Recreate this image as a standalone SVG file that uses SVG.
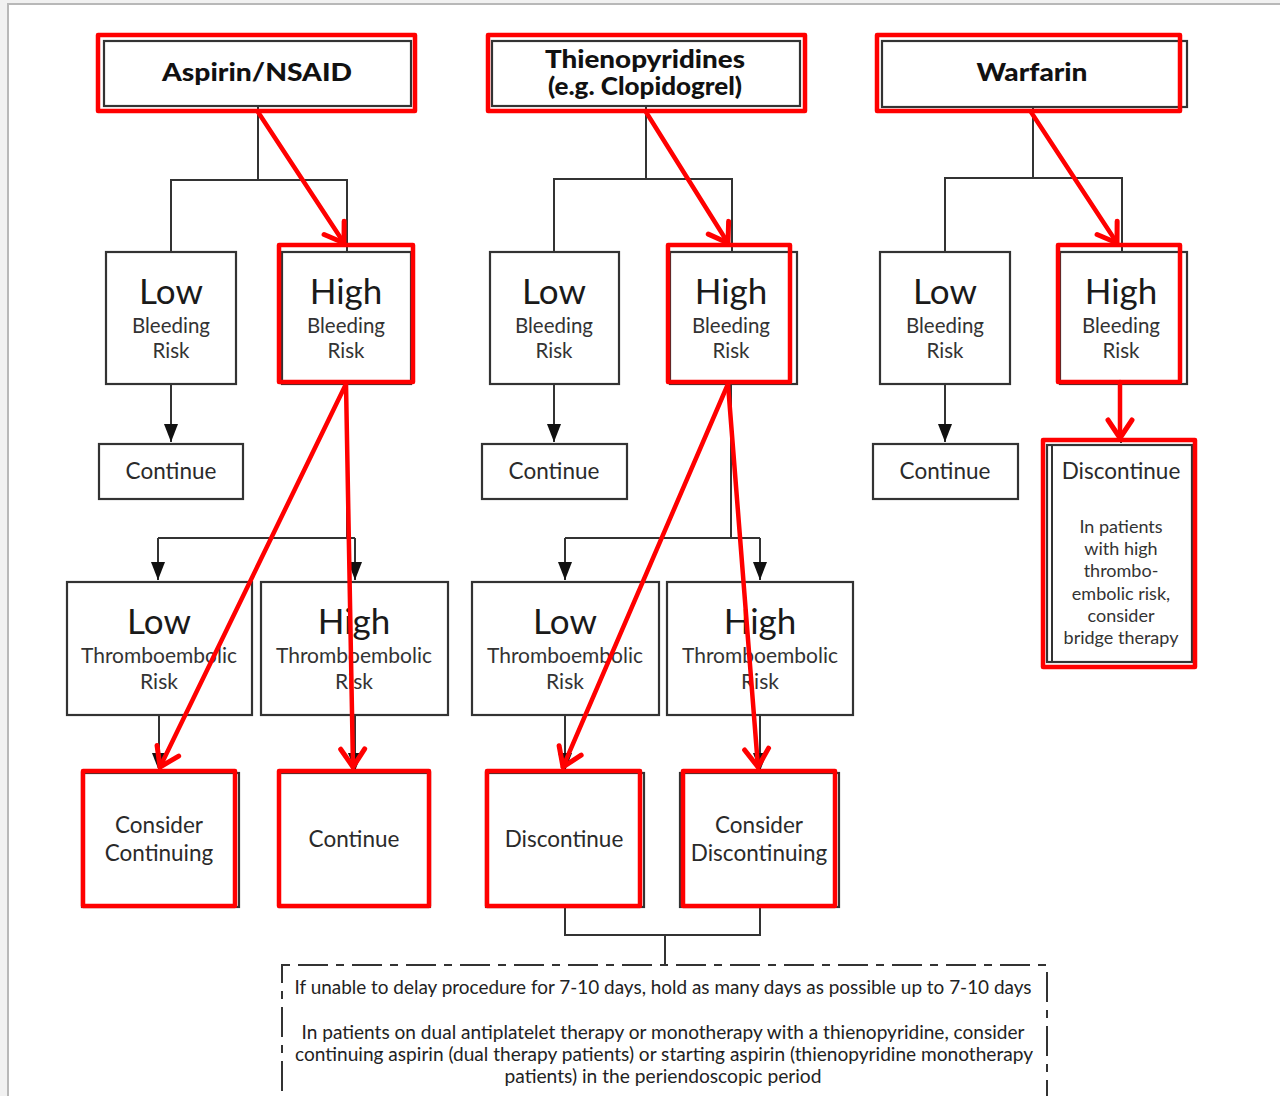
<svg xmlns="http://www.w3.org/2000/svg" width="1280" height="1096" viewBox="0 0 1280 1096">
<defs>
<style>
.bx{fill:#fff;stroke:#333;stroke-width:2.2}
.rd{fill:none;stroke:#f00;stroke-width:4.5;stroke-linejoin:round}
.ln{fill:none;stroke:#333;stroke-width:2}
.ra{fill:none;stroke:#f00;stroke-width:4.5;stroke-linecap:round}
text{font-family:Lato,"Liberation Sans",sans-serif;text-anchor:middle;fill:#2a2a2a}
.hdr{font-size:24px;font-weight:900;fill:#111}
.big{font-size:35px;fill:#1a1a1a}
.sub{font-size:20.5px;fill:#333}
.th{font-size:21px;fill:#333}
.out{font-size:22.5px;fill:#2a2a2a}
.sm{font-size:18px;fill:#333}
.note{font-size:18.5px;fill:#222}
</style>
<marker id="bh" markerUnits="userSpaceOnUse" orient="auto" refX="0" refY="0" markerWidth="30" markerHeight="30" viewBox="-25 -15 30 30" overflow="visible"><path d="M0,0 L-18,-7 L-18,7 Z" fill="#111"/></marker>
<marker id="rh" markerUnits="userSpaceOnUse" orient="auto" refX="0" refY="0" markerWidth="40" markerHeight="40" viewBox="-30 -20 40 40" overflow="visible"><path d="M-18,-12 L0,0 L-18,12" fill="none" stroke="#f00" stroke-width="5" stroke-linecap="round" stroke-linejoin="round"/></marker>
</defs>
<rect x="0" y="0" width="1280" height="1096" fill="#f1f1f1"/>
<rect x="8" y="4" width="1290" height="1110" fill="#fff" stroke="#b8b8b8" stroke-width="2"/>

<g id="connectors">
<path class="ln" d="M258,106 V180 M171,252 V180 H347 V252"/>
<path class="ln" d="M646,106 V179 M554,252 V179 H732 V252"/>
<path class="ln" d="M1033,107 V178 M945,252 V178 H1122 V252"/>
<path class="ln" d="M171,384 V442" marker-end="url(#bh)"/>
<path class="ln" d="M554,384 V442" marker-end="url(#bh)"/>
<path class="ln" d="M945,384 V442" marker-end="url(#bh)"/>
<path class="ln" d="M1121,384 V443"/>
<path class="ln" d="M347,384 V538 M158,538 H355"/>
<path class="ln" d="M158,538 V580" marker-end="url(#bh)"/>
<path class="ln" d="M355,538 V580" marker-end="url(#bh)"/>
<path class="ln" d="M159,715 V771" marker-end="url(#bh)"/>
<path class="ln" d="M355,715 V771" marker-end="url(#bh)"/>
<path class="ln" d="M731,384 V538 M565,538 H760"/>
<path class="ln" d="M565,538 V580" marker-end="url(#bh)"/>
<path class="ln" d="M760,538 V580" marker-end="url(#bh)"/>
<path class="ln" d="M565,715 V771" marker-end="url(#bh)"/>
<path class="ln" d="M760,715 V771" marker-end="url(#bh)"/>
<path class="ln" d="M565,907 V935 H760 V907 M665,935 V965"/>
</g>

<g id="aspirin">
<rect class="bx" x="104" y="41" width="307" height="65"/>
<rect class="rd" x="98" y="35" width="317" height="76"/>
<text class="hdr" x="257" y="81" textLength="190" lengthAdjust="spacingAndGlyphs">Aspirin/NSAID</text>
</g>
<g id="thieno">
<rect class="bx" x="492" y="41" width="308" height="65"/>
<rect class="rd" x="488" y="35" width="317" height="76"/>
<text class="hdr" x="645" y="68" textLength="200" lengthAdjust="spacingAndGlyphs">Thienopyridines</text>
<text class="hdr" x="645" y="95" textLength="194" lengthAdjust="spacingAndGlyphs">(e.g. Clopidogrel)</text>
</g>
<g id="warfarin">
<rect class="bx" x="882" y="41" width="305" height="66"/>
<rect class="rd" x="877" y="35" width="303" height="76"/>
<text class="hdr" x="1032" y="81" textLength="111" lengthAdjust="spacingAndGlyphs">Warfarin</text>
</g>

<g id="a-low-bleed">
<rect class="bx" x="106" y="252" width="130" height="132"/>
<text class="big" x="171" y="304">Low</text>
<text class="sub" x="171" y="333">Bleeding</text>
<text class="sub" x="171" y="358">Risk</text>
</g>
<g id="a-high-bleed">
<rect class="bx" x="282" y="252" width="129" height="132"/>
<rect class="rd" x="279" y="245" width="134" height="137"/>
<text class="big" x="346" y="304">High</text>
<text class="sub" x="346" y="333">Bleeding</text>
<text class="sub" x="346" y="358">Risk</text>
</g>
<g id="t-low-bleed">
<rect class="bx" x="490" y="252" width="129" height="132"/>
<text class="big" x="554" y="304">Low</text>
<text class="sub" x="554" y="333">Bleeding</text>
<text class="sub" x="554" y="358">Risk</text>
</g>
<g id="t-high-bleed">
<rect class="bx" x="670" y="252" width="127" height="132"/>
<rect class="rd" x="668" y="245" width="122" height="137"/>
<text class="big" x="731" y="304">High</text>
<text class="sub" x="731" y="333">Bleeding</text>
<text class="sub" x="731" y="358">Risk</text>
</g>
<g id="w-low-bleed">
<rect class="bx" x="880" y="252" width="130" height="132"/>
<text class="big" x="945" y="304">Low</text>
<text class="sub" x="945" y="333">Bleeding</text>
<text class="sub" x="945" y="358">Risk</text>
</g>
<g id="w-high-bleed">
<rect class="bx" x="1060" y="252" width="127" height="132"/>
<rect class="rd" x="1058" y="245" width="122" height="137"/>
<text class="big" x="1121" y="304">High</text>
<text class="sub" x="1121" y="333">Bleeding</text>
<text class="sub" x="1121" y="358">Risk</text>
</g>

<g id="a-continue">
<rect class="bx" x="99" y="444" width="144" height="55"/>
<text class="out" x="171" y="479">Continue</text>
</g>
<g id="t-continue">
<rect class="bx" x="482" y="444" width="145" height="55"/>
<text class="out" x="554" y="479">Continue</text>
</g>
<g id="w-continue">
<rect class="bx" x="873" y="444" width="145" height="55"/>
<text class="out" x="945" y="479">Continue</text>
</g>
<g id="w-discontinue">
<rect class="bx" x="1047" y="445" width="145" height="217"/>
<path class="ln" d="M1052,445 V662"/>
<rect class="rd" x="1043" y="440" width="152" height="227"/>
<text class="out" x="1121" y="479">Discontinue</text>
<text class="sm" x="1121" y="533">In patients</text>
<text class="sm" x="1121" y="555">with high</text>
<text class="sm" x="1121" y="577">thrombo-</text>
<text class="sm" x="1121" y="600">embolic risk,</text>
<text class="sm" x="1121" y="622">consider</text>
<text class="sm" x="1121" y="644">bridge therapy</text>
</g>

<g id="a-low-thrombo">
<rect class="bx" x="67" y="582" width="185" height="133"/>
<text class="big" x="159" y="634">Low</text>
<text class="th" x="159" y="663">Thromboembolic</text>
<text class="th" x="159" y="689">Risk</text>
</g>
<g id="a-high-thrombo">
<rect class="bx" x="261" y="582" width="187" height="133"/>
<text class="big" x="354" y="634">High</text>
<text class="th" x="354" y="663">Thromboembolic</text>
<text class="th" x="354" y="689">Risk</text>
</g>
<g id="t-low-thrombo">
<rect class="bx" x="472" y="582" width="187" height="133"/>
<text class="big" x="565" y="634">Low</text>
<text class="th" x="565" y="663">Thromboembolic</text>
<text class="th" x="565" y="689">Risk</text>
</g>
<g id="t-high-thrombo">
<rect class="bx" x="667" y="582" width="186" height="133"/>
<text class="big" x="760" y="634">High</text>
<text class="th" x="760" y="663">Thromboembolic</text>
<text class="th" x="760" y="689">Risk</text>
</g>

<g id="a-consider-continuing">
<rect class="bx" x="82" y="773" width="157" height="134"/>
<rect class="rd" x="83" y="771" width="152" height="135"/>
<text class="out" x="159" y="833">Consider</text>
<text class="out" x="159" y="861">Continuing</text>
</g>
<g id="a-continue2">
<rect class="bx" x="279" y="773" width="151" height="134"/>
<rect class="rd" x="279" y="771" width="150" height="135"/>
<text class="out" x="354" y="847">Continue</text>
</g>
<g id="t-discontinue">
<rect class="bx" x="486" y="773" width="158" height="134"/>
<rect class="rd" x="487" y="771" width="153" height="135"/>
<text class="out" x="564" y="847">Discontinue</text>
</g>
<g id="t-consider-discontinuing">
<rect class="bx" x="680" y="773" width="159" height="134"/>
<rect class="rd" x="683" y="771" width="152" height="135"/>
<text class="out" x="759" y="833">Consider</text>
<text class="out" x="759" y="861">Discontinuing</text>
</g>

<g id="note">
<rect x="282" y="965" width="765" height="170" fill="none" stroke="#333" stroke-width="2" stroke-dasharray="8,8,30,8"/>
<text class="note" x="663" y="994" textLength="737" lengthAdjust="spacingAndGlyphs">If unable to delay procedure for 7-10 days, hold as many days as possible up to 7-10 days</text>
<text class="note" x="663" y="1039" textLength="723" lengthAdjust="spacingAndGlyphs">In patients on dual antiplatelet therapy or monotherapy with a thienopyridine, consider</text>
<text class="note" x="664" y="1061" textLength="738" lengthAdjust="spacingAndGlyphs">continuing aspirin (dual therapy patients) or starting aspirin (thienopyridine monotherapy</text>
<text class="note" x="663" y="1083" textLength="317" lengthAdjust="spacingAndGlyphs">patients) in the periendoscopic period</text>
</g>

<g id="red-arrows">
<path class="ra" d="M258,112 L344,243" marker-end="url(#rh)"/>
<path class="ra" d="M646,112 L728,243" marker-end="url(#rh)"/>
<path class="ra" d="M1031,112 L1117,243" marker-end="url(#rh)"/>
<path class="ra" d="M346,384 L160,767" marker-end="url(#rh)"/>
<path class="ra" d="M346,384 L353,767" marker-end="url(#rh)"/>
<path class="ra" d="M728,384 L563,767" marker-end="url(#rh)"/>
<path class="ra" d="M728,384 L758,767" marker-end="url(#rh)"/>
<path class="ra" d="M1120,382 L1120,438" marker-end="url(#rh)"/>
</g>
</svg>
